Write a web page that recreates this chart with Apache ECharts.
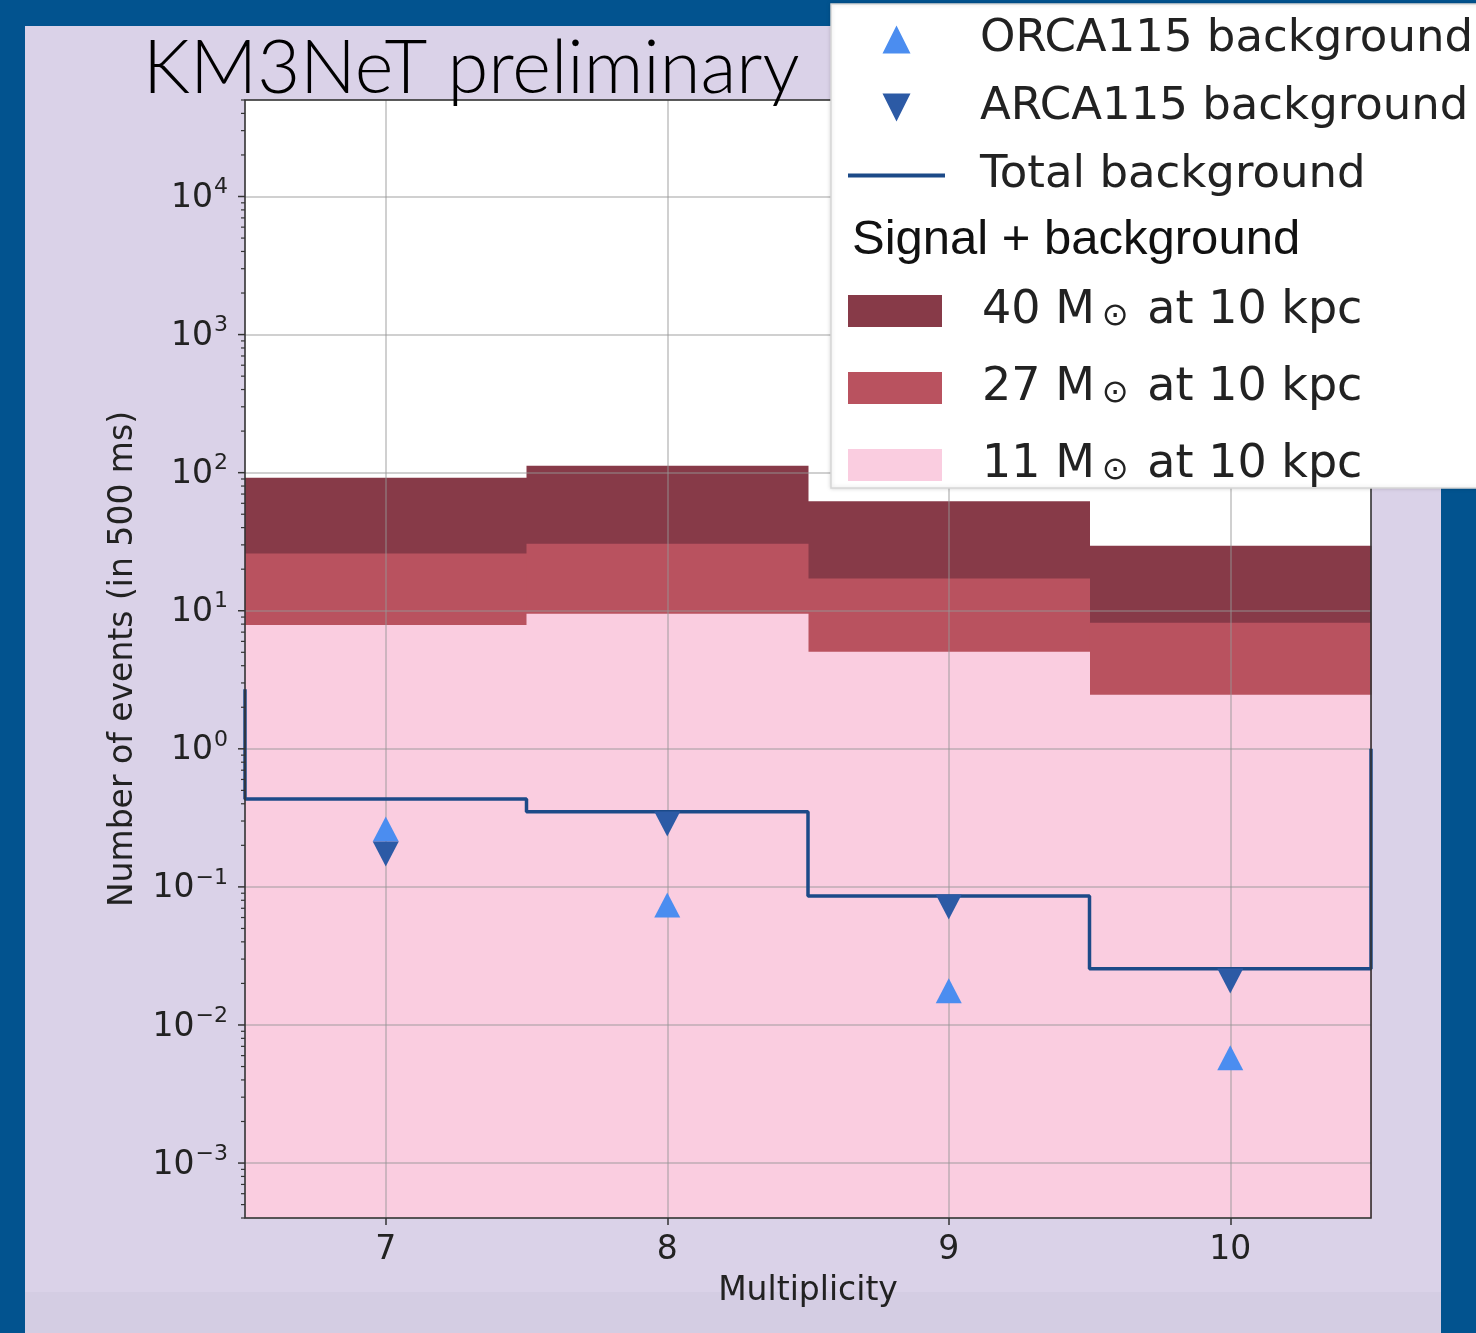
<!DOCTYPE html>
<html>
<head>
<meta charset="utf-8">
<title>KM3NeT preliminary – multiplicity</title>
<script src="https://cdn.jsdelivr.net/npm/echarts@6/dist/echarts.min.js"></script>
<style>
  html, body { margin: 0; padding: 0; width: 1476px; height: 1333px; overflow: hidden; background: #02538f; }
  #panel { position: absolute; left: 25px; top: 26px; width: 1416px; height: 1307px; background: #dad2e8; }
  #band  { position: absolute; left: 25px; top: 1292px; width: 1416px; height: 41px; background: #d4cde3; }
  #chart { position: absolute; left: 0; top: 0; width: 1476px; height: 1333px; }
</style>
</head>
<body>
<div id="panel"></div>
<div id="band"></div>
<div id="chart"></div>
<script>
// ---- data ---------------------------------------------------------------
const multiplicity = [7, 8, 9, 10];
const binEdges = [6.5, 7.5, 8.5, 9.5, 10.5];

// signal + background expectations per multiplicity bin
const signal40 = [92, 112, 62, 29.6];
const signal27 = [26, 30.6, 17.1, 8.2];
const signal11 = [7.9, 9.5, 5.05, 2.46];

// background expectations
const totalBackground = [0.434, 0.35, 0.086, 0.0255];
const totalRiserLeft = 2.7;   // upper end of the step line's left riser
const totalRiserRight = 1.0;  // upper end of the step line's right riser
const orcaBackground = [0.263, 0.074, 0.0177, 0.0058];
const arcaBackground = [0.173, 0.286, 0.0716, 0.0208];

// axes
const xTicks = [7, 8, 9, 10];
const yMajorTicks = [1e-3, 1e-2, 1e-1, 1, 10, 100, 1000, 10000];
const xRange = [6.5, 10.5];
const yRange = [4e-4, 5e4];

const signalMasses = ['40', '27', '11'];
const signalColors = ['#873a48', '#b9525f', '#facde0'];

// ---- helpers --------------------------------------------------------------
const FONT = 'DejaVu Sans';
const TEXT = '#222';

// log-axis minor ticks: 2..9 × 10^n inside the visible range
const yMinorTicks = [];
for (let e = -4; e <= 4; e++) {
  for (let k = 2; k <= 9; k++) {
    const v = k * Math.pow(10, e);
    if (v >= yRange[0] && v <= yRange[1]) yMinorTicks.push(v);
  }
}
const yTickMarks = yMajorTicks.map(v => [xRange[0], v, 7])
  .concat(yMinorTicks.map(v => [xRange[0], v, 4]));

function powerLabel(v) {
  const lg = Math.log10(v);
  const e = Math.round(lg);
  if (Math.abs(lg - e) > 1e-6) return '';
  const exp = e < 0 ? '\u2212' + (-e) : String(e);
  return '{b|10}{s|' + exp + '}';
}

function histSeries(name, values, color) {
  return {
    name: name,
    type: 'custom',
    z: 2,
    itemStyle: { color: color },
    encode: { x: [0, 1], y: 2 },
    data: values.map((v, i) => [binEdges[i], binEdges[i + 1], v]),
    renderItem(params, api) {
      const tl = api.coord([api.value(0), api.value(2)]);
      const br = api.coord([api.value(1), yRange[0]]);
      return {
        type: 'rect',
        shape: { x: tl[0], y: tl[1], width: br[0] - tl[0] + 0.5, height: br[1] - tl[1] },
        style: { fill: api.visual('color') }
      };
    }
  };
}

// step outline of the total background
const stepPoints = [[binEdges[0], totalRiserLeft]];
totalBackground.forEach((v, i) => {
  stepPoints.push([binEdges[i], v]);
  stepPoints.push([binEdges[i + 1], v]);
});
stepPoints.push([binEdges[binEdges.length - 1], totalRiserRight]);

const upTri = 'path://M5,0 L10,10 L0,10 Z';
const downTri = 'path://M0,0 L10,0 L5,10 Z';
const lineIcon = 'path://M0,0 L100,0 L100,4 L0,4 Z';

// ---- chart ------------------------------------------------------------------
const chart = echarts.init(document.getElementById('chart'), null, { renderer: 'canvas' });

const option = {
  backgroundColor: 'transparent',
  animation: false,
  title: {
    text: 'KM3NeT preliminary',
    left: 143,
    top: 32,
    padding: 0,
    z: 12,
    textStyle: { fontFamily: 'Lato', fontWeight: 300, fontSize: 74, color: '#000' }
  },
  grid: {
    left: 245, right: 105, top: 100, bottom: 115,
    show: true, backgroundColor: '#ffffff', borderWidth: 0,
    containLabel: false, outerBoundsMode: 'none'
  },
  xAxis: {
    type: 'value',
    min: xRange[0], max: xRange[1],
    z: 5,
    name: 'Multiplicity',
    nameLocation: 'middle',
    nameGap: 57,
    nameTextStyle: { fontFamily: FONT, fontSize: 33, color: TEXT },
    axisLine: { show: false },
    axisTick: { show: true, length: 7, customValues: xTicks, lineStyle: { color: '#333', width: 1.5 } },
    axisLabel: {
      customValues: xTicks, margin: 16,
      fontFamily: FONT, fontSize: 33, color: TEXT,
      formatter: v => (Number.isInteger(v) ? String(v) : '')
    },
    splitLine: { show: true, lineStyle: { color: 'rgba(150,150,150,0.6)', width: 1.5 } }
  },
  yAxis: {
    type: 'log',
    logBase: 10,
    min: yRange[0], max: yRange[1],
    z: 5,
    name: 'Number of events (in 500 ms)',
    nameLocation: 'middle',
    nameGap: 105,
    nameRotate: 90,
    nameTextStyle: { fontFamily: FONT, fontSize: 33, color: TEXT },
    axisLine: { show: false },
    axisTick: { show: false },
    axisLabel: {
      customValues: yMajorTicks,
      margin: 17,
      formatter: powerLabel,
      rich: {
        b: { fontFamily: FONT, fontSize: 33, color: TEXT, lineHeight: 40, padding: [4, 0, 0, 0] },
        s: { fontFamily: FONT, fontSize: 22, color: TEXT, lineHeight: 16, verticalAlign: 'top', padding: [0, 0, 0, 1] }
      }
    },
    splitLine: { show: true, lineStyle: { color: 'rgba(150,150,150,0.6)', width: 1.5 } }
  },
  legend: [
    {
      orient: 'vertical', left: 848, top: 17, padding: 0,
      itemWidth: 97, itemHeight: 28, itemGap: 23,
      selectedMode: false, z: 20,
      textStyle: {
        fontFamily: FONT, fontSize: 45, color: TEXT, lineHeight: 44,
        rich: { sp: { width: 30, fontSize: 44 } }
      },
      formatter: name => '{sp| }' + name,
      data: [
        { name: 'ORCA115 background', icon: upTri },
        { name: 'ARCA115 background', icon: downTri },
        { name: 'Total background', icon: lineIcon }
      ]
    },
    {
      orient: 'vertical', left: 848, top: 288, padding: 0,
      itemWidth: 94, itemHeight: 32, itemGap: 31,
      selectedMode: false, z: 20,
      textStyle: {
        fontFamily: FONT, fontSize: 46, color: TEXT, lineHeight: 44,
        rich: {
          sp: { width: 35, fontSize: 44 },
          t: { fontFamily: FONT, fontSize: 46, color: TEXT, lineHeight: 44 },
          o: { fontFamily: FONT, fontSize: 32, color: TEXT, lineHeight: 22, verticalAlign: 'bottom', padding: [0, 4, 0, 7] }
        }
      },
      formatter: name => {
        const i = name.indexOf('\u2299');
        return '{sp| }{t|' + name.slice(0, i) + '}{o|\u2299}{t|' + name.slice(i + 1) + '}';
      },
      data: signalMasses.map(m => ({ name: m + ' M\u2299 at 10 kpc', icon: 'rect' }))
    }
  ],
  graphic: [
    {
      type: 'rect', z: 15,
      shape: { x: 831, y: 4, width: 680, height: 484 },
      style: { fill: '#ffffff', stroke: '#d6d6d6', lineWidth: 1.5, shadowBlur: 4, shadowColor: 'rgba(0,0,0,0.15)' }
    },
    {
      type: 'text', z: 21, left: 852, top: 216,
      style: { text: 'Signal + background', fontFamily: 'Liberation Sans', fontSize: 49, fill: '#111' }
    }
  ],
  series: [
    histSeries(signalMasses[0] + ' M\u2299 at 10 kpc', signal40, signalColors[0]),
    histSeries(signalMasses[1] + ' M\u2299 at 10 kpc', signal27, signalColors[1]),
    histSeries(signalMasses[2] + ' M\u2299 at 10 kpc', signal11, signalColors[2]),
    {
      name: 'Total background',
      type: 'line',
      z: 8,
      showSymbol: false,
      symbol: 'none',
      lineStyle: { color: '#1c4a88', width: 3.5 },
      itemStyle: { color: '#1c4a88' },
      data: stepPoints
    },
    {
      name: 'ORCA115 background',
      type: 'scatter',
      z: 10,
      symbol: 'triangle',
      symbolSize: [26, 25],
      itemStyle: { color: '#4b8df0', opacity: 1 },
      data: multiplicity.map((m, i) => [m, orcaBackground[i]])
    },
    {
      name: 'ARCA115 background',
      type: 'scatter',
      z: 10,
      symbol: 'triangle',
      symbolRotate: 180,
      symbolSize: [26, 25],
      itemStyle: { color: '#2c5aa5', opacity: 1 },
      data: multiplicity.map((m, i) => [m, arcaBackground[i]])
    },
    {
      // y-axis major and minor tick marks
      type: 'custom',
      silent: true,
      z: 9,
      clip: false,
      encode: { x: 0, y: 1 },
      data: yTickMarks,
      renderItem(params, api) {
        const p = api.coord([api.value(0), api.value(1)]);
        const len = api.value(2);
        return {
          type: 'line',
          shape: { x1: p[0] - len, y1: p[1], x2: p[0], y2: p[1] },
          style: { stroke: '#333', lineWidth: len > 5 ? 1.5 : 1.2 }
        };
      }
    },
    {
      // plot frame
      type: 'custom',
      silent: true,
      z: 9,
      clip: false,
      encode: { x: [0, 2], y: [1, 3] },
      data: [[xRange[0], yRange[1], xRange[1], yRange[0]]],
      renderItem(params, api) {
        const a = api.coord([api.value(0), api.value(1)]);
        const b = api.coord([api.value(2), api.value(3)]);
        return {
          type: 'rect',
          shape: { x: a[0], y: a[1], width: b[0] - a[0], height: b[1] - a[1] },
          style: { fill: 'none', stroke: '#333', lineWidth: 1.6 }
        };
      }
    }
  ]
};

chart.setOption(option);
</script>
</body>
</html>
